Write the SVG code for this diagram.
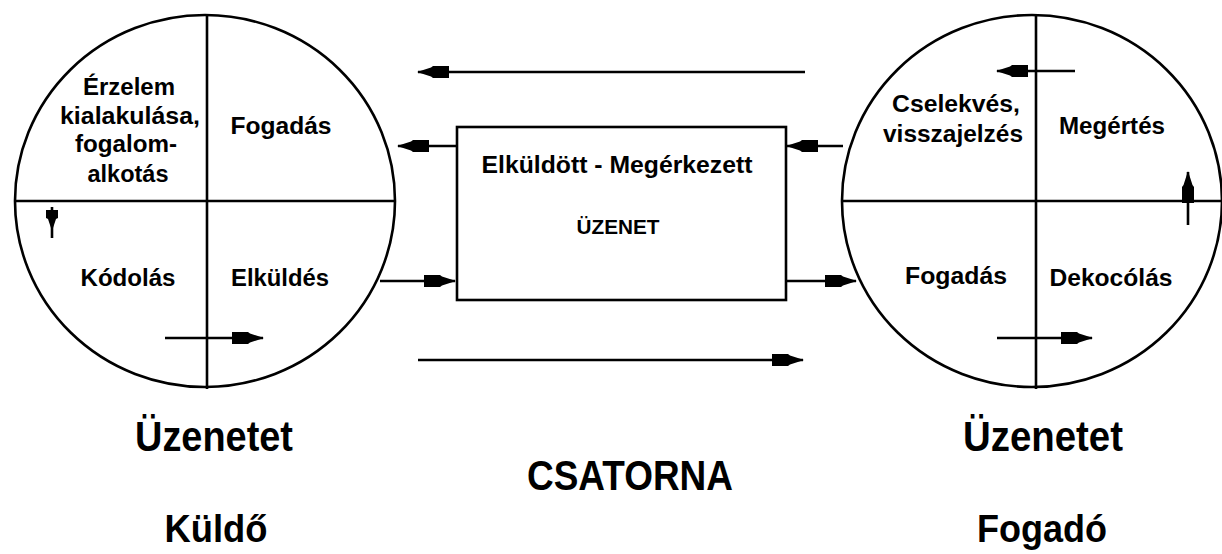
<svg xmlns="http://www.w3.org/2000/svg" width="1222" height="554" viewBox="0 0 1222 554">
<style>
.ln{stroke:#000;stroke-width:2.6;fill:none}
.arr{stroke:#000;stroke-width:2.6;fill:none;marker-end:url(#ah)}
.t{font-family:"Liberation Sans",Arial,sans-serif;font-size:23px;font-weight:bold;text-anchor:middle;fill:#000}
.b{font-family:"Liberation Sans",Arial,sans-serif;font-size:42px;font-weight:bold;text-anchor:middle;fill:#000}
</style>
<defs>
<marker id="ah" markerUnits="userSpaceOnUse" viewBox="-34 -8 36 16" markerWidth="36" markerHeight="16" refX="0" refY="0" orient="auto">
<path d="M1,0 L-13,-4.5 L-15,-6 L-31,-6 L-31,6 L-15,6 L-13,4.5 Z" fill="#000"/>
</marker>
</defs>
<rect width="1222" height="554" fill="#fff"/>

<g id="sender">
<ellipse class="ln" cx="205" cy="201" rx="190" ry="186"/>
<line class="ln" x1="207" y1="15" x2="207" y2="389"/>
<line class="ln" x1="15" y1="201" x2="395" y2="201"/>
<text class="t" x="129" y="95" textLength="92" lengthAdjust="spacingAndGlyphs">Érzelem</text>
<text class="t" x="130" y="124" textLength="140" lengthAdjust="spacingAndGlyphs">kialakulása,</text>
<text class="t" x="126" y="152" textLength="102" lengthAdjust="spacingAndGlyphs">fogalom-</text>
<text class="t" x="128" y="182" textLength="81" lengthAdjust="spacingAndGlyphs">alkotás</text>
<text class="t" x="281" y="134" textLength="101" lengthAdjust="spacingAndGlyphs">Fogadás</text>
<text class="t" x="128" y="286" textLength="95" lengthAdjust="spacingAndGlyphs">Kódolás</text>
<text class="t" x="280" y="286" textLength="98" lengthAdjust="spacingAndGlyphs">Elküldés</text>
</g>

<g id="message">
<rect class="ln" x="457" y="127" width="329" height="173"/>
<text class="t" x="617" y="173" style="font-size:24px" textLength="271" lengthAdjust="spacingAndGlyphs">Elküldött - Megérkezett</text>
<text class="t" x="618" y="234" style="font-size:20px" textLength="83" lengthAdjust="spacingAndGlyphs">ÜZENET</text>
</g>

<g id="receiver">
<ellipse class="ln" cx="1032" cy="201" rx="190" ry="186"/>
<line class="ln" x1="1036" y1="15" x2="1036" y2="389"/>
<line class="ln" x1="842" y1="201" x2="1222" y2="201"/>
<text class="t" x="956" y="112" textLength="128" lengthAdjust="spacingAndGlyphs">Cselekvés,</text>
<text class="t" x="953" y="142" textLength="140" lengthAdjust="spacingAndGlyphs">visszajelzés</text>
<text class="t" x="1112" y="134" textLength="106" lengthAdjust="spacingAndGlyphs">Megértés</text>
<text class="t" x="956" y="284" textLength="102" lengthAdjust="spacingAndGlyphs">Fogadás</text>
<text class="t" x="1111" y="286" textLength="123" lengthAdjust="spacingAndGlyphs">Dekocólás</text>
</g>

<g id="labels">
<text class="b" x="214" y="451" textLength="158" lengthAdjust="spacingAndGlyphs">Üzenetet</text>
<text class="b" x="216" y="542" style="font-size:38px" textLength="103" lengthAdjust="spacingAndGlyphs">Küldő</text>
<text class="b" x="630" y="490" textLength="206" lengthAdjust="spacingAndGlyphs">CSATORNA</text>
<text class="b" x="1043" y="451" textLength="160" lengthAdjust="spacingAndGlyphs">Üzenetet</text>
<text class="b" x="1042" y="542" style="font-size:38px" textLength="130" lengthAdjust="spacingAndGlyphs">Fogadó</text>
</g>

<g id="connectors">
<line class="arr" x1="805" y1="72" x2="418" y2="72"/>
<line class="arr" x1="418" y1="360" x2="803" y2="360"/>
<line class="arr" x1="457" y1="146" x2="398" y2="146"/>
<line class="arr" x1="380" y1="281" x2="455" y2="281"/>
<line class="arr" x1="843" y1="146" x2="787" y2="146"/>
<line class="arr" x1="786" y1="281" x2="856" y2="281"/>
<line class="arr" x1="165" y1="338" x2="263" y2="338"/>
<line class="arr" x1="1075" y1="71" x2="997" y2="71"/>
<line class="arr" x1="997" y1="338" x2="1092" y2="338"/>
<line class="arr" x1="1188" y1="225" x2="1188" y2="172"/>
<line class="ln" x1="52" y1="207" x2="52" y2="238"/>
<path d="M46,210 L58,210 L58,218 L56,219 L52,231 L48,219 L46,218 Z" fill="#000"/>
</g>
</svg>
